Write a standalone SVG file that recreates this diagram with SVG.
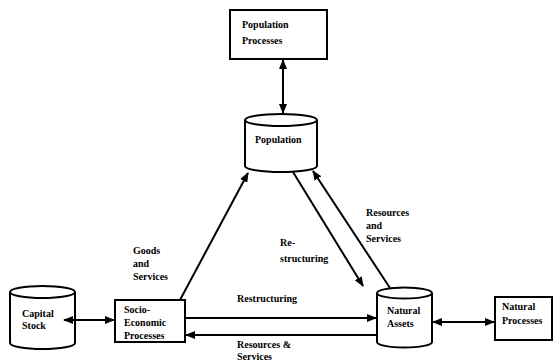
<svg xmlns="http://www.w3.org/2000/svg" width="553" height="363" viewBox="0 0 553 363">
<defs>
<marker id="ah" viewBox="0 0 10 8" refX="9" refY="4" markerWidth="10" markerHeight="8" markerUnits="userSpaceOnUse" orient="auto-start-reverse">
<path d="M0,0 L10,4 L0,8 Z" fill="#000"/>
</marker>
<style>
.s{fill:#fff;stroke:#000;stroke-width:2}
.c{fill:none;stroke:#000;stroke-width:2}
.t{font-family:"Liberation Serif",serif;font-size:10px;font-weight:bold;fill:#000}
.l{stroke:#000;stroke-width:2;fill:none}
</style>
</defs>
<rect width="553" height="363" fill="#fff"/>
<g id="population-processes">
<rect class="s" x="230" y="10" width="97" height="49"/>
<text class="t" x="242" y="28">Population</text>
<text class="t" x="242" y="44">Processes</text>
</g>
<g id="population">
<path class="s" d="M245,120 L245,166 A36,6 0 0 0 317,166 L317,120"/>
<ellipse class="s" cx="281" cy="120" rx="36" ry="6"/>
<text class="t" x="255" y="143">Population</text>
</g>
<g id="capital-stock">
<path class="s" d="M10,292 L10,343 A32.5,6 0 0 0 75,343 L75,292"/>
<ellipse class="s" cx="42.5" cy="292" rx="32.5" ry="6"/>
<text class="t" x="22" y="317">Capital</text>
<text class="t" x="22" y="329">Stock</text>
</g>
<g id="socio-economic-processes">
<rect class="s" x="115" y="300" width="70" height="42"/>
<text class="t" x="124" y="313">Socio-</text>
<text class="t" x="124" y="326">Economic</text>
<text class="t" x="124" y="339">Processes</text>
</g>
<g id="natural-assets">
<path class="s" d="M377,293 L377,342 A27.5,5.5 0 0 0 432,342 L432,293"/>
<ellipse class="s" cx="404.5" cy="293" rx="27.5" ry="5.5"/>
<text class="t" x="387" y="314">Natural</text>
<text class="t" x="387" y="327">Assets</text>
</g>
<g id="natural-processes">
<rect class="s" x="495" y="297" width="57" height="43"/>
<text class="t" x="502" y="310">Natural</text>
<text class="t" x="502" y="324">Processes</text>
</g>
<g id="connectors">
<line class="l" x1="283" y1="60" x2="283" y2="113" marker-start="url(#ah)" marker-end="url(#ah)"/>
<line class="l" x1="64" y1="320" x2="114" y2="320" marker-start="url(#ah)" marker-end="url(#ah)"/>
<line class="l" x1="433" y1="322" x2="494" y2="322" marker-start="url(#ah)" marker-end="url(#ah)"/>
<line class="l" x1="185" y1="318" x2="376" y2="318" marker-end="url(#ah)"/>
<line class="l" x1="377" y1="335" x2="186" y2="335" marker-end="url(#ah)"/>
<line class="l" x1="180" y1="300" x2="248" y2="173" marker-end="url(#ah)"/>
<line class="l" x1="293" y1="172" x2="363" y2="286" marker-end="url(#ah)"/>
<line class="l" x1="390" y1="288" x2="313" y2="171" marker-end="url(#ah)"/>
</g>
<g id="labels">
<text class="t" x="133" y="254">Goods</text>
<text class="t" x="133" y="267">and</text>
<text class="t" x="133" y="280">Services</text>
<text class="t" x="280" y="246">Re-</text>
<text class="t" x="280" y="262">structuring</text>
<text class="t" x="366" y="216">Resources</text>
<text class="t" x="366" y="229">and</text>
<text class="t" x="366" y="242">Services</text>
<text class="t" x="237" y="302">Restructuring</text>
<text class="t" x="237" y="348">Resources &amp;</text>
<text class="t" x="237" y="360">Services</text>
</g>
</svg>
